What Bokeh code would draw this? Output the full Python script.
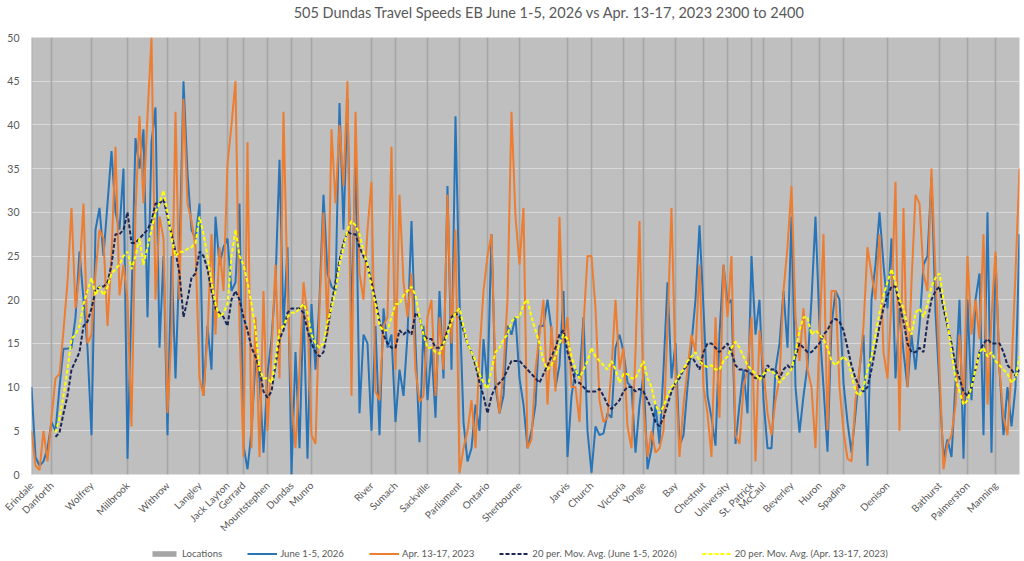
import math
from bokeh.plotting import figure
from bokeh.layouts import column
from bokeh.models import FixedTicker, Range1d, Legend, LegendItem
from bokeh.core.properties import value
from bokeh.embed import file_html
from bokeh.resources import INLINE

title_text = "505 Dundas Travel Speeds EB June 1-5, 2026 vs Apr. 13-17, 2023 2300 to 2400"

location_names = ["Erindale", "Danforth", "Wolfrey", "Millbrook", "Withrow", "Langley",
                  "Jack Layton", "Gerrard", "Mountstephen", "Dundas", "Munro", "River",
                  "Sumach", "Sackville", "Parliament", "Ontario", "Sherbourne", "Jarvis",
                  "Church", "Victoria", "Yonge", "Bay", "Chestnut", "University",
                  "St. Patrick", "McCaul", "Beverley", "Huron", "Spadina", "Denison",
                  "Bathurst", "Palmerston", "Manning"]
location_index = [0, 5, 15, 24, 34, 42, 49, 53, 59, 65, 70, 85, 91, 99, 107, 114, 122, 134,
                  140, 148, 153, 161, 168, 174, 180, 183, 190, 197, 203, 214, 227, 234, 241]

june_2026 = [
    10, 2, 1, 1.5, 3, 6, 5, 10, 14.4, 14.4, 14.5, 18, 25.5, 20, 14.5, 4.5, 28, 30.5, 25, 31, 37, 30, 28, 35, 1.8, 20, 38.5, 35, 39.5, 18, 38, 42,
    14.5, 25, 4.5, 25, 11, 25, 45, 34.5, 28, 27, 31, 9, 17, 12, 29.5, 24, 26, 27, 21, 22, 31, 3.3, 0.6, 5, 13, 11, 2.5, 11.5, 15.5, 22, 36, 17,
    26, 0, 14, 3, 19.5, 1.8, 19.5, 12, 20, 32, 23, 21.5, 21, 42.5, 28, 43, 17, 37, 7, 16, 15, 5, 17, 4.5, 19, 14.5, 16, 6, 12, 9, 16, 29,
    15, 3.7, 17, 8.5, 14.5, 6.5, 21, 11, 33, 12, 41, 20, 6, 1.5, 3, 8, 5, 15.5, 10, 27.5, 10, 7, 9, 17, 16, 18, 11, 8, 3, 5, 8, 17,
    17, 20, 16.5, 10, 12.5, 21, 2, 9, 12, 11, 18, 5, 0.2, 5.5, 4.5, 4.7, 7, 6.5, 14.5, 16, 14, 10.5, 10, 2.5, 8, 11.5, 0.6, 3, 8, 3.5, 12, 22,
    11, 15, 3.3, 4.5, 10, 15, 20, 28.5, 19, 9, 6.5, 3.3, 16, 24, 19.5, 20, 3.5, 8, 12, 7, 25, 16, 20, 8.5, 3, 3, 12, 15, 21, 14.5, 29.5,
    10, 4.8, 9, 12.5, 20, 29.5, 17, 10, 2.6, 17, 21, 20, 10.5, 6, 2.5, 7, 12, 16, 1, 20, 24, 30, 24, 19, 27, 11, 19, 14,
    10, 16, 12, 17, 24, 25, 34, 18.5, 10, 1.8, 4, 2, 10.5, 20, 1.8, 20, 8.5, 20, 23, 4.5, 30, 2.5, 25, 12, 4.5, 10, 5.5, 10, 27.5,
]

apr_2023 = [
    5, 1, 0.5, 5, 1.5, 6.5, 11, 11.5, 16.5, 22, 30.5, 19, 23, 31, 15, 16, 23, 28, 27, 17, 25, 37.5, 20.5, 24, 20, 5.5, 30, 41, 31, 41, 50, 20,
    29.5, 27, 7, 16, 41.5, 20, 43, 31, 29, 26, 11, 9, 16, 27.5, 16, 26, 21, 35.5, 40, 45, 17, 2, 38, 3, 18, 2, 21, 5, 14, 24, 11, 41.5,
    21, 8.5, 3, 12, 22, 18, 4.5, 3.5, 19, 30, 16, 39.5, 31, 40, 33, 45, 9, 41.5, 23, 20, 28, 33.5, 9.5, 8.5, 17, 18, 37.5, 12, 32, 22, 18, 23,
    12, 8.3, 9, 18, 20, 9, 18, 12, 32, 15, 28, 0.2, 3, 5, 8.5, 3, 14, 21, 25, 27.5, 11, 7, 12, 20, 41.5, 29.5, 24, 30.5, 3, 4, 12, 16,
    20, 8, 17, 9.5, 29.5, 15, 18, 10, 10, 6, 17, 25, 25, 19, 8.5, 6, 6.5, 12, 20, 12, 14.5, 5.5, 3, 14, 29, 8, 2, 5, 2.5, 3, 5, 17,
    30.5, 12, 2, 8, 12, 16, 14, 24, 10, 7, 2, 18, 6.5, 24, 18, 25, 4.5, 3.5, 10, 12, 18, 1.5, 16.5, 12, 7, 4.5, 8.5, 11, 21, 26, 33,
    18, 13, 19, 12, 10, 3, 16, 27.5, 5, 21, 21, 10, 5, 1.8, 1.5, 8.5, 12, 17, 26, 23, 20, 27.5, 14, 11, 20, 33.5, 5, 30.5,
    10, 22, 32, 31, 23, 21, 35, 23, 12, 0.6, 3.5, 4.5, 8, 16, 8, 25, 16, 20, 15.5, 27.5, 8, 18, 25.5, 12, 6.5, 4.5, 12, 23, 35,
]

ma_start = 6
ma_june_2026 = [
    4.3, 4.8, 7, 9, 12, 13, 14, 17, 17.5, 19, 21, 21.5, 21.5, 22, 24, 27.5, 27.5, 28, 30, 26.5, 26.5, 27, 27.5, 28, 29, 31,
    31, 31.5, 29.5, 27.5, 25.5, 23, 18, 20, 22.5, 23, 25.5, 25, 23.5, 21, 19, 18.5, 18, 17, 20, 21, 20, 18, 16.5, 14.5, 13.5, 12, 9.5, 8.8, 9.5, 12.5, 15.5, 16.5,
    18.5, 19, 19, 19, 18.5, 16.5, 15, 14, 13.5, 14, 16.5, 19.5, 22, 24.5, 26.5, 27.8, 27.5, 27.5, 26, 25, 24, 22, 20, 17.5, 16, 15, 14.5, 14.5, 16.5, 16, 16.5, 16,
    18.5, 18, 16, 15.5, 15.5, 14.5, 14.5, 15, 16.5, 18, 18.5, 18, 16.5, 15, 14, 12.5, 10.5, 9, 7, 9, 10, 10.5, 11, 12, 13, 13, 13, 12.5, 12, 11.5, 11, 10.5,
    11.5, 12.5, 13.5, 14.5, 16, 16.5, 14, 12.5, 10.5, 10.5, 10, 9.5, 9.5, 9.5, 9.8, 9, 8, 7.5, 8, 8.5, 9.5, 10, 10, 9.5, 9.8, 9.5, 8.5, 7.5, 6, 5.5, 6.5, 8,
    9.5, 10.5, 11, 12, 12.5, 13.5, 12.8, 12, 14, 15, 15, 14.5, 14, 14.5, 15, 14, 12.5, 12, 12, 11.8, 11.5, 11, 11.3, 11, 12.5, 12, 12, 11, 12, 12.5, 12,
    13.5, 15, 14.5, 14, 14, 14.5, 15, 16, 16.5, 17.5, 17.8, 17.5, 16.5, 14.5, 12.5, 11, 10, 9.5, 10, 12, 14.5, 17, 19, 20.5, 21.5, 21.5, 19.5, 17.5,
    15, 14, 14, 14.5, 14, 17.5, 20, 21, 21.5, 19, 17, 15, 12.5, 11, 9.5, 9, 10, 12, 14, 15, 15.5, 15, 15, 15, 14, 12.5, 12, 11.3, 12,
]
ma_apr_2023 = [
    4.8, 6.5, 9, 12, 15.5, 16, 17, 19.5, 21, 22.5, 20.5, 21.5, 20.5, 21.5, 23, 23.5, 24, 25, 25.5, 23.5, 25, 27, 24, 26, 28, 30,
    31, 32.5, 30, 27, 25, 25.5, 25.5, 25.8, 26, 26.5, 29.5, 27.5, 25, 22, 19.5, 18, 18.5, 19.5, 25, 28, 25, 24, 22, 19.5, 16.5, 12, 11, 11, 10.5, 13, 16.5, 17,
    18, 18.5, 18.5, 19, 19.5, 18.5, 16, 15, 14.5, 15, 17.5, 19, 21, 24, 26, 28, 29, 28.5, 27.5, 25.5, 24, 21.5, 19.5, 17, 16.5, 16.5, 18, 19.5, 19.5, 20.5, 21, 21.5,
    20.5, 18, 16, 14.5, 14.5, 14, 13.8, 15, 16, 17.5, 18.5, 19, 17, 15, 14, 13, 11.5, 10.5, 9.8, 12, 14, 14.5, 15.5, 16, 17.5, 18, 18, 19.5, 20, 18, 16.5, 15,
    13, 12, 12.5, 13.5, 15, 16, 15.5, 13.5, 12, 11, 12, 13, 14.5, 13.5, 13, 12.5, 12, 13, 12, 10.5, 11.5, 11.5, 11, 11, 12, 13, 11, 10, 8, 7, 7.8, 9,
    10, 10.5, 11.5, 12, 13, 13.5, 14, 13, 12.5, 12.3, 12.5, 12, 12, 13, 13.5, 14.5, 15.2, 14.5, 13.5, 12.5, 12, 11.5, 10.8, 11.5, 12, 11.8, 11.5, 10.5, 11, 11.5, 12,
    14, 16.5, 18, 18, 16, 16.5, 16, 15.5, 14.5, 13, 12.5, 13, 13.5, 13, 11.5, 9.5, 9, 10, 12, 13.5, 16, 18.5, 20.5, 22, 23.5, 22, 20, 19,
    17, 16, 18.5, 19, 18, 19.5, 21.5, 22.5, 23, 20, 17.5, 14, 11, 9.5, 8, 8.5, 10, 12, 14, 14.5, 13.5, 14, 13, 12.5, 12, 11.5, 10.5, 11, 13.5,
]

y_ticks = list(range(0, 51, 5))
legend_labels = ["Locations", "June 1-5, 2026", "Apr. 13-17, 2023",
                 "20 per. Mov. Avg. (June 1-5, 2026)", "20 per. Mov. Avg. (Apr. 13-17, 2023)"]

FONT = "Lato"
TXT = "#595959"
C_LOC = "#A6A6A6"
C_JUNE = "#2874B8"
C_APR = "#ED7D31"
C_MA1 = "#1C2756"
C_MA2 = "#FFFF00"
W = 1024

x_raw = list(range(len(june_2026)))
x_apr = list(range(len(apr_2023)))
x_ma1 = list(range(ma_start, ma_start + len(ma_june_2026)))
x_ma2 = list(range(ma_start, ma_start + len(ma_apr_2023)))
x_max = max(len(june_2026), len(apr_2023)) - 1


def strip(height):
    f = figure(width=W, height=height, output_backend="svg", toolbar_location=None,
               x_range=Range1d(0, W), y_range=Range1d(0, height),
               x_axis_location=None, y_axis_location=None,
               min_border_left=0, min_border_right=0, min_border_top=0, min_border_bottom=0)
    f.outline_line_color = None
    f.grid.visible = False
    f.background_fill_color = "white"
    f.border_fill_color = "white"
    return f


# ---------------- title strip ----------------
top = strip(24)
top.text(x=[537], y=[12], text=[title_text], text_align="center", text_baseline="middle",
         text_font=value(FONT), text_font_size="14.5px", text_color=TXT)

# ---------------- main chart ----------------
p = figure(width=W, height=521, output_backend="svg", toolbar_location=None,
           x_range=Range1d(0, x_max), y_range=Range1d(0, 50),
           min_border_left=31, min_border_right=5, min_border_top=13, min_border_bottom=71)
p.background_fill_color = "#BFBFBF"
p.border_fill_color = "white"
p.outline_line_color = None

p.vbar(x=location_index, top=50, bottom=0, width=0.4, fill_color=C_LOC, line_color=None)
p.line(x_raw, june_2026, line_color=C_JUNE, line_width=2)
p.line(x_apr, apr_2023, line_color=C_APR, line_width=2)
p.line(x_ma1, ma_june_2026, line_color=C_MA1, line_width=2, line_dash="4 2")
p.line(x_ma2, ma_apr_2023, line_color=C_MA2, line_width=2, line_dash="4 2")

p.xaxis.ticker = FixedTicker(ticks=location_index)
p.xaxis.major_label_overrides = {i: n for i, n in zip(location_index, location_names)}
p.xaxis.major_label_orientation = math.pi / 4
p.xaxis.major_tick_line_color = None
p.xaxis.minor_tick_line_color = None
p.xaxis.axis_line_color = None
p.xaxis.major_label_standoff = 3
p.xaxis.major_label_text_font = FONT
p.xaxis.major_label_text_font_size = "10px"
p.xaxis.major_label_text_color = TXT

p.yaxis.ticker = FixedTicker(ticks=y_ticks)
p.yaxis.major_tick_line_color = None
p.yaxis.minor_tick_line_color = None
p.yaxis.axis_line_color = None
p.yaxis.major_label_standoff = 6
p.yaxis.major_label_text_font = FONT
p.yaxis.major_label_text_font_size = "10.5px"
p.yaxis.major_label_text_color = TXT

p.xgrid.grid_line_color = None
p.ygrid.grid_line_color = "#D9D9D9"
p.ygrid.grid_line_width = 1

# ---------------- legend strip ----------------
lg = strip(16)
hidden_x = [2000, 2001]
hidden_y = [100, 101]
g0 = lg.vbar(x=hidden_x, top=hidden_y, bottom=90, width=0.1, fill_color=C_LOC, line_color=None)
g1 = lg.line(hidden_x, hidden_y, line_color=C_JUNE, line_width=2)
g2 = lg.line(hidden_x, hidden_y, line_color=C_APR, line_width=2)
g3 = lg.line(hidden_x, hidden_y, line_color=C_MA1, line_width=2, line_dash="4 2")
g4 = lg.line(hidden_x, hidden_y, line_color=C_MA2, line_width=2, line_dash="4 2")

legend = Legend(items=[LegendItem(label=t, renderers=[r]) for t, r in
                       zip(legend_labels, [g0, g1, g2, g3, g4])],
                orientation="horizontal", location=(118, 2), glyph_width=30, glyph_height=7,
                label_text_font=FONT, label_text_font_size="9.6px", label_text_color=TXT,
                background_fill_alpha=0, border_line_alpha=0, spacing=25, padding=0, margin=0,
                label_standoff=3, label_height=12)
lg.add_layout(legend, "center")

open("out.html", "w").write(file_html(column(top, p, lg, spacing=0), INLINE))
